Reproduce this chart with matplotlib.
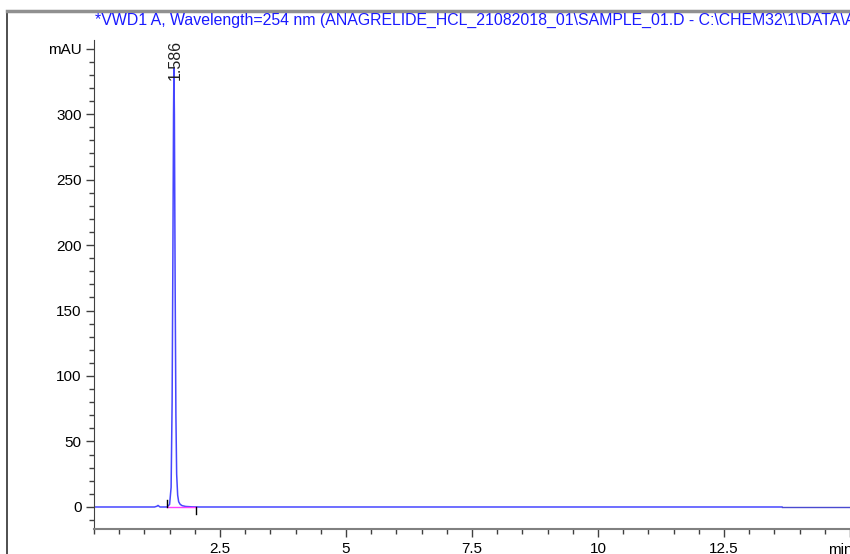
import numpy as np
from matplotlib import pyplot as plt
from matplotlib.ticker import MultipleLocator, FixedLocator

plt.rcParams['font.family'] = ['Liberation Sans', 'DejaVu Sans']

# signal (min, mAU)
time = [0.0, 1.20, 1.25, 1.27, 1.29, 1.31, 1.45, 1.50, 1.53, 1.55, 1.565, 1.578,
        1.586, 1.595, 1.61, 1.625, 1.64, 1.66, 1.68, 1.71, 1.75, 1.82, 1.95, 2.10,
        13.65]
signal = [0.0, 0.0, 0.6, 1.2, 0.6, 0.0, 0.0, 2.0, 15.0, 80.0, 190.0, 300.0,
          335.0, 300.0, 170.0, 70.0, 25.0, 9.0, 4.0, 2.0, 1.0, 0.4, 0.1, 0.0,
          0.0]
tail_time = [13.65, 15.0]
tail_signal = [0.0, 0.0]

peak_rt = 1.586
peak_label = "1.586"
base_start = 1.45
base_end = 2.02

title = ("*VWD1 A, Wavelength=254 nm (ANAGRELIDE_HCL_21082018_01\\SAMPLE_01.D"
         " - C:\\CHEM32\\1\\DATA\\ANAGRELIDE_HCL_21082018_01\\SAMPLE_01.D)")
xticks = [2.5, 5, 7.5, 10, 12.5, 15]
xlabels = ["2.5", "5", "7.5", "10", "12.5", ""]
yticks = [0, 50, 100, 150, 200, 250, 300, 350]
ylabels = ["0", "50", "100", "150", "200", "250", "300", "mAU"]

fig = plt.figure(figsize=(8.5, 5.54), dpi=100)

# outer frame lines
fig.add_artist(plt.Line2D([7/850, 7/850], [0, 1 - 11/554], color='#303030', lw=1.2))
fig.add_artist(plt.Line2D([7/850, 1], [1 - 11/554, 1 - 11/554], color='#909090', lw=2.5))

fig.text(95/850, 1 - 20/554, title, color='#1a1aff', fontsize=11.4, va='center', ha='left')

ax = fig.add_axes([94/850, 25/554, 756/850, 489/554])
ax.plot(time, signal, color='#4646ff', lw=1.1)
ax.plot(tail_time, tail_signal, color='#4a4ad0', lw=1.0)
ax.plot([base_start, base_end], [0, 0], color='#ff40ff', lw=1.0)
ax.plot([base_start, base_start], [0, 5], color='black', lw=1.0)
ax.plot([base_end, base_end], [0, -5], color='black', lw=1.0)

ax.text(peak_rt + 0.035, 326, peak_label, rotation=90, ha='center', va='bottom',
        fontsize=11.5, color='#202020')
ax.text(14.8, -16.8, "min", ha='center', va='top', fontsize=11,
        transform=ax.transData, clip_on=False).set_y(-16.8 - 10.5)

ax.set_xlim(0, 15)
ax.set_ylim(-16.8, 356.5)
ax.spines['top'].set_visible(False)
ax.spines['right'].set_visible(False)
ax.spines['left'].set_color('#404040')
ax.spines['bottom'].set_color('#808080')
ax.spines['bottom'].set_linewidth(1.5)

ax.xaxis.set_major_locator(FixedLocator(xticks))
ax.set_xticklabels(xlabels)
ax.xaxis.set_minor_locator(MultipleLocator(0.5))
ax.yaxis.set_major_locator(FixedLocator(yticks))
ax.set_yticklabels(ylabels)
ax.yaxis.set_minor_locator(MultipleLocator(10))

ax.tick_params(axis='both', which='major', length=6, width=1, color='#404040',
               labelsize=11, pad=3)
ax.tick_params(axis='both', which='minor', length=3.5, width=1, color='#404040')
ax.tick_params(axis='x', pad=3.5)

fig.savefig('out.png', dpi=100)
